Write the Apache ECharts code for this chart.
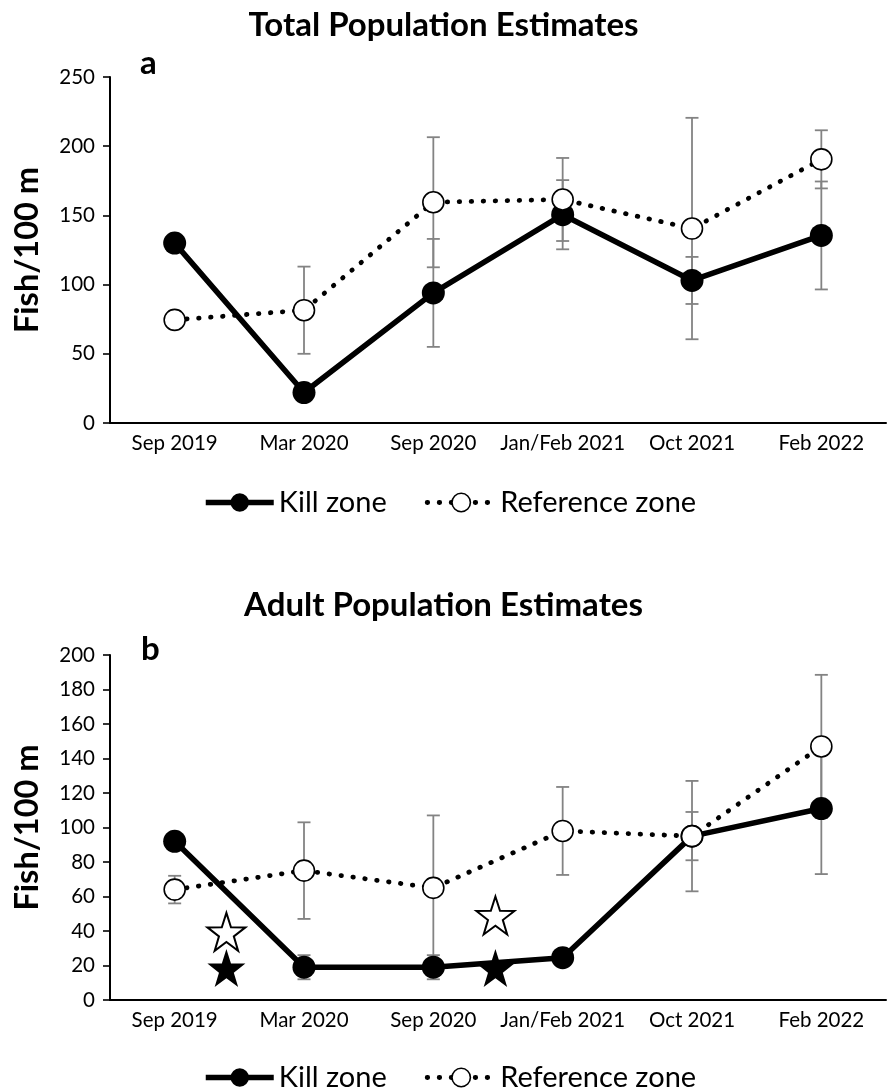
<!DOCTYPE html>
<html><head><meta charset="utf-8">
<script src="https://cdn.jsdelivr.net/npm/echarts@6/dist/echarts.min.js"></script>
<style>html,body{margin:0;padding:0;background:#fff}#c{width:887px;height:1092px}</style>
</head><body><div id="c"></div>
<script>
const categories = ['Sep 2019','Mar 2020','Sep 2020','Jan/Feb 2021','Oct 2021','Feb 2022'];
// Panel a: total population
const totalKill = [130, 22, 94, 150.5, 103, 135.5];
const totalKillErr = [null, null, 39, 25, 17, 39];
const totalRef = [74.5, 81.5, 159.5, 161.5, 140.5, 190.5];
const totalRefErr = [null, 31.5, 47, 30, 80, 21];
// Panel b: adult population
const adultKill = [92, 19, 19, 24.5, 95, 111];
const adultKillErr = [null, 7, 7, null, 14, 38];
const adultRef = [64, 75, 65, 98, 95, 147];
const adultRefErr = [8, 28, 42, 25.5, 32, 41.5];
// significance stars (position along category axis, value)
const starsOpenX = [0.9, 2.98];
const starsOpenY = [39.5, 49];
const starsFilledX = [0.9, 2.98];
const starsFilledY = [18.5, 18.5];
const totalTicks = {min:0, max:250, interval:50};
const adultTicks = {min:0, max:200, interval:20};

function starPath(){
  let s = 'path://';
  for (let i=0;i<10;i++){
    const a = (-90 + i*36) * Math.PI/180;
    const r = i%2===0 ? 50 : 19.5;
    const x = (50 + r*Math.cos(a)).toFixed(2), y = (50 + r*Math.sin(a)).toFixed(2);
    s += (i===0?'M':'L') + x + ',' + y + ' ';
  }
  return s + 'Z';
}
const STAR = starPath();
const FONT = 'Lato';

function errData(vals, errs){
  const out = [];
  vals.forEach((v,i)=>{ if(errs[i]!=null) out.push([i, v-errs[i], v+errs[i]]); });
  return out;
}
function errRender(params, api){
  const x = api.value(0), lo = api.value(1), hi = api.value(2);
  const p1 = api.coord([x, hi]), p2 = api.coord([x, lo]);
  const w = 6.5, st = {stroke:'#838383', lineWidth:1.8};
  return {type:'group', children:[
    {type:'line', shape:{x1:p1[0],y1:p1[1],x2:p2[0],y2:p2[1]}, style:st},
    {type:'line', shape:{x1:p1[0]-w,y1:p1[1],x2:p1[0]+w,y2:p1[1]}, style:st},
    {type:'line', shape:{x1:p2[0]-w,y1:p2[1],x2:p2[0]+w,y2:p2[1]}, style:st}
  ]};
}
const KILL_LINE = {color:'#000', width:5.5};
const REF_LINE = {color:'#000', width:4.8, type:[0.5, 11.5], cap:'round'};
function killSeries(xi, yi, data){
  return {name:'Kill zone', type:'line', xAxisIndex:xi, yAxisIndex:yi, data:data, z:3,
    symbol:'circle', symbolSize:23, itemStyle:{color:'#000'},
    lineStyle:KILL_LINE, animation:false};
}
function refSeries(xi, yi, data){
  return {name:'Reference zone', type:'line', xAxisIndex:xi, yAxisIndex:yi, data:data, z:4,
    symbol:'circle', symbolSize:21, itemStyle:{color:'#fff', borderColor:'#000', borderWidth:1.6},
    lineStyle:REF_LINE, animation:false};
}
function errSeries(xi, yi, data){
  return {type:'custom', xAxisIndex:xi, yAxisIndex:yi, data:data, renderItem:errRender, z:2, silent:true, animation:false};
}
function starSeries(xi, yi, xs, ys, open){
  return {type:'scatter', xAxisIndex:xi, yAxisIndex:yi, data:xs.map((x,i)=>[x, ys[i]]), z:5,
    symbol:STAR, symbolSize:38, animation:false, silent:true,
    itemStyle: open ? {color:'#fff', borderColor:'#000', borderWidth:2, opacity:1} : {color:'#000', opacity:1}};
}
const catAxis = (gi)=>({type:'category', gridIndex:gi, data:categories, boundaryGap:true,
  axisLine:{lineStyle:{color:'#000', width:2}}, axisTick:{show:false},
  axisLabel:{color:'#000', fontSize:20.5, fontFamily:FONT, margin:10, interval:0}});
const hidAxis = (gi)=>({type:'value', gridIndex:gi, min:0, max:6, show:false});
const valAxis = (gi, t)=>({type:'value', gridIndex:gi, min:t.min, max:t.max, interval:t.interval,
  name:'Fish/100 m', nameLocation:'middle', nameGap:66, nameRotate:90,
  nameTextStyle:{color:'#000', fontSize:32.5, fontWeight:'bold', fontFamily:FONT},
  axisLine:{show:true, lineStyle:{color:'#000', width:2}}, axisTick:{show:true, length:7, lineStyle:{color:'#000', width:1.6}},
  splitLine:{show:false}, axisLabel:{color:'#000', fontSize:20.5, fontFamily:FONT, margin:15}});
const legendData = [
  {name:'Kill zone', lineStyle:{width:5.5, color:'#000'}},
  {name:'Reference zone', lineStyle:{width:4.8, color:'#000', type:[0.5, 11.5], cap:'round'}, itemStyle:{borderWidth:1.6}}
];
const legendBase = {left:198, itemWidth:68, itemHeight:23, itemGap:38, data:legendData,
  textStyle:{fontSize:29, fontFamily:FONT, color:'#000'}};

const chart = echarts.init(document.getElementById('c'), null, {renderer:'canvas'});
chart.setOption({
  backgroundColor:'#fff',
  animation:false,
  title:[
    {text:'Total Population Estimates', left:'center', top:4, textStyle:{fontSize:33, fontWeight:'bold', fontFamily:FONT, color:'#000'}},
    {text:'Adult Population Estimates', left:'center', top:584, textStyle:{fontSize:33, fontWeight:'bold', fontFamily:FONT, color:'#000'}},
    {text:'a', left:140, top:47, padding:0, textStyle:{fontSize:33, fontWeight:'bold', fontFamily:FONT, color:'#000'}},
    {text:'b', left:141, top:633, padding:0, textStyle:{fontSize:33, fontWeight:'bold', fontFamily:FONT, color:'#000'}}
  ],
  legend:[
    Object.assign({top:483}, legendBase),
    Object.assign({top:1058}, legendBase)
  ],
  grid:[
    {left:110, top:77, width:776, height:346},
    {left:110, top:655, width:776, height:345}
  ],
  xAxis:[catAxis(0), catAxis(1), hidAxis(0), hidAxis(1)],
  yAxis:[valAxis(0,totalTicks), valAxis(1,adultTicks)],
  series:[
    errSeries(0,0,errData(totalKill,totalKillErr)),
    errSeries(0,0,errData(totalRef,totalRefErr)),
    killSeries(0,0,totalKill),
    refSeries(0,0,totalRef),
    errSeries(1,1,errData(adultKill,adultKillErr)),
    errSeries(1,1,errData(adultRef,adultRefErr)),
    killSeries(1,1,adultKill),
    refSeries(1,1,adultRef),
    starSeries(3,1,starsOpenX,starsOpenY,true),
    starSeries(3,1,starsFilledX,starsFilledY,false)
  ]
});
</script></body></html>
